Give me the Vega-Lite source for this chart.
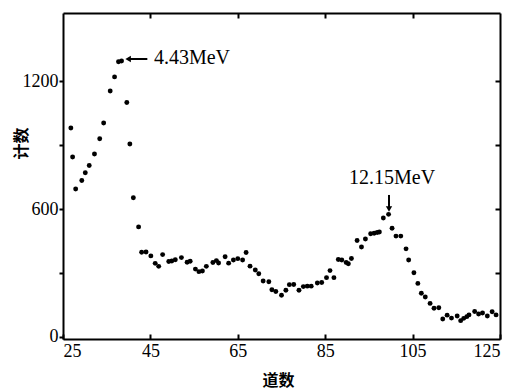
{
  "$schema": "https://vega.github.io/schema/vega-lite/v6.json",
  "width": 437,
  "height": 326,
  "autosize": "none",
  "padding": {"left": 63, "top": 13, "right": 7, "bottom": 52},
  "background": "white",
  "config": {
    "view": {"stroke": null},
    "axis": {"grid": false, "domainColor": "black", "domainWidth": 2, "tickColor": "black", "tickWidth": 2, "labelFont": "Liberation Serif", "labelFontSize": 18, "labelColor": "black", "titleColor": "black"}
  },
  "datasets": {
    "pts": [
      {"c": 26.8, "v": 980}, {"c": 27.2, "v": 844}, {"c": 27.9, "v": 694}, {"c": 29.3, "v": 734},
      {"c": 30.1, "v": 770}, {"c": 31.0, "v": 804}, {"c": 32.2, "v": 858}, {"c": 33.4, "v": 930},
      {"c": 34.3, "v": 1004}, {"c": 35.8, "v": 1154}, {"c": 36.8, "v": 1220}, {"c": 37.7, "v": 1291},
      {"c": 38.4, "v": 1295}, {"c": 39.6, "v": 1100}, {"c": 40.3, "v": 905}, {"c": 41.1, "v": 653},
      {"c": 42.3, "v": 516}, {"c": 43.0, "v": 397}, {"c": 44.0, "v": 398}, {"c": 45.1, "v": 380},
      {"c": 46.1, "v": 345}, {"c": 46.9, "v": 331}, {"c": 47.8, "v": 386}, {"c": 49.2, "v": 354},
      {"c": 49.9, "v": 356}, {"c": 50.7, "v": 362}, {"c": 52.1, "v": 372}, {"c": 53.4, "v": 350},
      {"c": 54.1, "v": 355}, {"c": 55.3, "v": 318}, {"c": 56.1, "v": 306}, {"c": 56.9, "v": 309},
      {"c": 57.8, "v": 331}, {"c": 59.3, "v": 349}, {"c": 60.1, "v": 358}, {"c": 60.6, "v": 347},
      {"c": 62.1, "v": 376}, {"c": 62.9, "v": 346}, {"c": 64.0, "v": 361}, {"c": 65.0, "v": 367},
      {"c": 66.1, "v": 361}, {"c": 66.9, "v": 396}, {"c": 67.8, "v": 332}, {"c": 69.0, "v": 314},
      {"c": 69.8, "v": 296}, {"c": 70.8, "v": 262}, {"c": 72.1, "v": 259}, {"c": 72.8, "v": 221},
      {"c": 73.7, "v": 213}, {"c": 75.0, "v": 195}, {"c": 76.0, "v": 219}, {"c": 76.8, "v": 245},
      {"c": 77.8, "v": 246}, {"c": 79.0, "v": 219}, {"c": 80.0, "v": 236}, {"c": 80.9, "v": 238},
      {"c": 81.8, "v": 238}, {"c": 83.2, "v": 253}, {"c": 84.2, "v": 255}, {"c": 85.3, "v": 278},
      {"c": 86.1, "v": 311}, {"c": 87.0, "v": 278}, {"c": 88.0, "v": 363}, {"c": 88.8, "v": 361},
      {"c": 89.8, "v": 349}, {"c": 90.3, "v": 343}, {"c": 91.0, "v": 368}, {"c": 92.3, "v": 452},
      {"c": 93.3, "v": 422}, {"c": 94.2, "v": 459}, {"c": 95.4, "v": 484}, {"c": 96.2, "v": 486},
      {"c": 96.9, "v": 490}, {"c": 97.4, "v": 492}, {"c": 98.3, "v": 558}, {"c": 99.5, "v": 575},
      {"c": 100.3, "v": 510}, {"c": 101.2, "v": 473}, {"c": 102.3, "v": 473}, {"c": 103.5, "v": 413},
      {"c": 104.1, "v": 361}, {"c": 105.3, "v": 301}, {"c": 106.2, "v": 251}, {"c": 107.0, "v": 205},
      {"c": 107.9, "v": 187}, {"c": 109.0, "v": 157}, {"c": 109.9, "v": 134}, {"c": 111.0, "v": 137},
      {"c": 111.9, "v": 84}, {"c": 112.9, "v": 102}, {"c": 113.9, "v": 88}, {"c": 115.2, "v": 98},
      {"c": 116.0, "v": 76}, {"c": 116.7, "v": 87}, {"c": 117.4, "v": 95}, {"c": 117.9, "v": 103},
      {"c": 119.2, "v": 119}, {"c": 120.1, "v": 107}, {"c": 121.0, "v": 112}, {"c": 122.1, "v": 98},
      {"c": 123.2, "v": 118}, {"c": 124.1, "v": 103}
    ],
    "arrows": [
      {"c": 40.2, "v": 1304, "c2": 44.3, "v2": 1304},
      {"c": 99.6, "v": 666, "c2": 99.6, "v2": 605}
    ],
    "heads": [
      {"c": 39.9, "v": 1304, "shape": "triangle-left"},
      {"c": 99.6, "v": 600, "shape": "triangle-down"}
    ],
    "label1": [
      {"c": 45.8, "v": 1309, "text": "4.43MeV"}
    ],
    "label2": [
      {"c": 100.3, "v": 746, "text": "12.15MeV"}
    ]
  },
  "layer": [
    {
      "data": {"name": "pts"},
      "mark": {"type": "point", "filled": true, "shape": "circle", "size": 24, "color": "black", "opacity": 1},
      "encoding": {
        "x": {"field": "c", "type": "quantitative",
          "scale": {"domain": [25, 125], "nice": false, "zero": false},
          "axis": {"orient": "bottom", "values": [25, 45, 65, 85, 105, 125], "tickSize": -5, "labelPadding": 8,
            "title": "道数", "titleFont": "Noto Sans CJK SC", "titleFontSize": 16, "titleFontWeight": "bold",
            "titleX": 215, "titleY": 41, "titleBaseline": "middle", "titleAlign": "center"}},
        "y": {"field": "v", "type": "quantitative",
          "scale": {"domain": [-10, 1520], "nice": false, "zero": false},
          "axis": {"orient": "left", "values": [0, 300, 600, 900, 1200], "format": "d", "tickSize": 4, "labelPadding": 1,
            "labelExpr": "datum.value % 600 === 0 ? datum.label : ''",
            "title": "计数", "titleFont": "Noto Sans CJK SC", "titleFontSize": 16, "titleFontWeight": "bold",
            "titleX": -42, "titleY": 130, "titleAngle": -90, "titleBaseline": "middle", "titleAlign": "center"}}
      }
    },
    {
      "data": {"name": "arrows"},
      "mark": {"type": "rule", "color": "black", "strokeWidth": 2},
      "encoding": {
        "x": {"field": "c", "type": "quantitative",
          "axis": {"orient": "top", "values": [45, 65, 85, 105], "tickSize": -5, "labels": false, "title": null}},
        "x2": {"field": "c2"},
        "y": {"field": "v", "type": "quantitative",
          "axis": {"orient": "right", "values": [300, 600, 900, 1200], "tickSize": -5, "labels": false, "title": null}},
        "y2": {"field": "v2"}
      }
    },
    {
      "data": {"name": "heads"},
      "mark": {"type": "point", "filled": true, "color": "black", "size": 40, "opacity": 1},
      "encoding": {
        "x": {"field": "c", "type": "quantitative", "axis": null},
        "y": {"field": "v", "type": "quantitative", "axis": null},
        "shape": {"field": "shape", "type": "nominal", "scale": null, "legend": null}
      }
    },
    {
      "data": {"name": "label1"},
      "mark": {"type": "text", "font": "Liberation Serif", "fontSize": 20, "color": "black", "baseline": "middle", "align": "left"},
      "encoding": {
        "x": {"field": "c", "type": "quantitative", "axis": null},
        "y": {"field": "v", "type": "quantitative", "axis": null},
        "text": {"field": "text"}
      }
    },
    {
      "data": {"name": "label2"},
      "mark": {"type": "text", "font": "Liberation Serif", "fontSize": 20, "color": "black", "baseline": "middle", "align": "center"},
      "encoding": {
        "x": {"field": "c", "type": "quantitative", "axis": null},
        "y": {"field": "v", "type": "quantitative", "axis": null},
        "text": {"field": "text"}
      }
    }
  ],
  "resolve": {"axis": {"x": "independent", "y": "independent"}}
}
